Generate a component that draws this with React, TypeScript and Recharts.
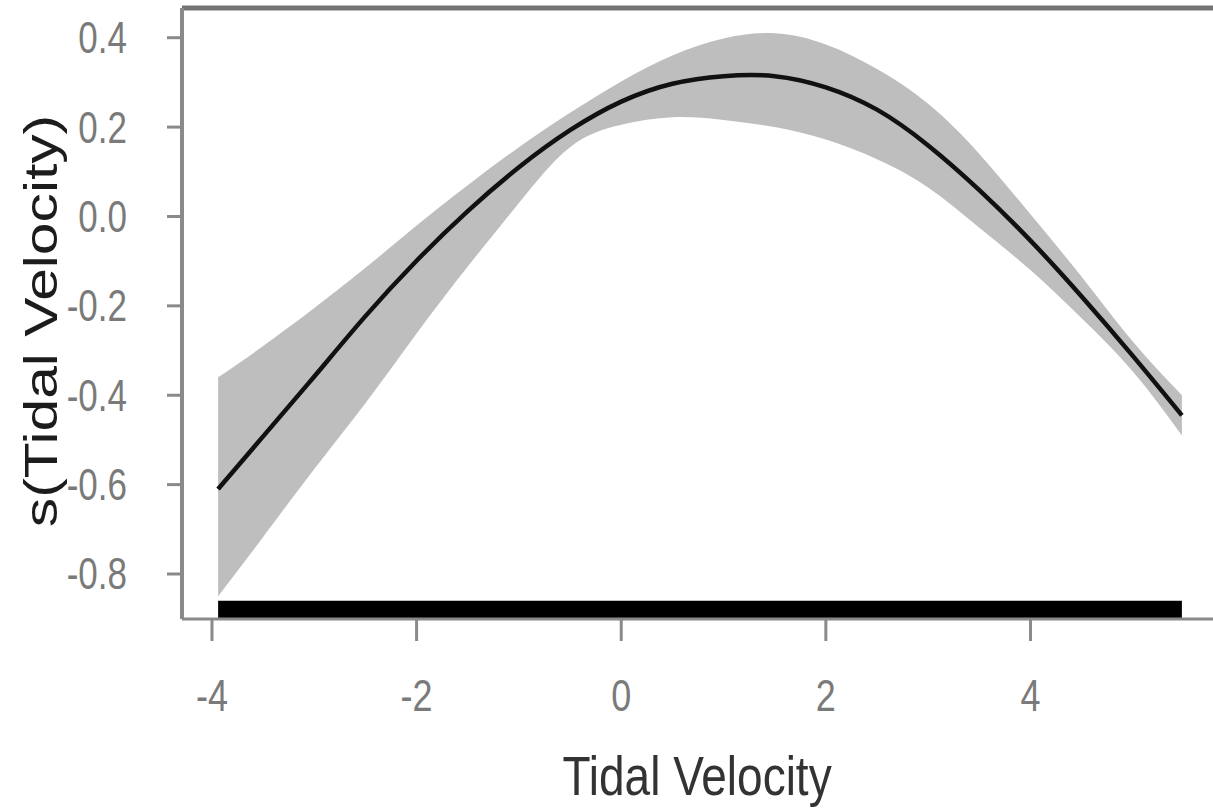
import { Area, ComposedChart, Line, ReferenceArea, ReferenceLine, XAxis, YAxis } from "recharts";

// smooth term s(Tidal Velocity) with its confidence band
const tidalVelocity = [-3.94, -3.5, -3, -2.5, -2, -1.5, -1, -0.5, 0, 0.5, 1, 1.5, 2, 2.5, 3, 3.5, 4, 4.5, 5, 5.48];
const fitted = [-0.61, -0.492, -0.358, -0.223, -0.099, 0.012, 0.11, 0.193, 0.257, 0.297, 0.314, 0.314, 0.289, 0.239, 0.159, 0.059, -0.054, -0.179, -0.312, -0.445];
const upperCI = [-0.36, -0.29, -0.205, -0.115, -0.02, 0.07, 0.155, 0.232, 0.302, 0.36, 0.398, 0.41, 0.385, 0.33, 0.252, 0.14, 0.005, -0.135, -0.28, -0.4];
const lowerCI = [-0.85, -0.717, -0.565, -0.418, -0.262, -0.112, 0.03, 0.155, 0.205, 0.222, 0.216, 0.2, 0.172, 0.128, 0.065, -0.025, -0.12, -0.228, -0.347, -0.49];

const xTicks = [-4, -2, 0, 2, 4];
const yTicks = [0.4, 0.2, 0, -0.2, -0.4, -0.6, -0.8];

const xDomain = [-4.293, 5.784];
const yDomain = [-0.9007, 0.4665];
const rugTop = -0.86;

const data = tidalVelocity.map((x, i) => ({
  x,
  fit: fitted[i],
  band: [lowerCI[i], upperCI[i]],
}));

const FONT = "'Liberation Sans', Arial, sans-serif";
const AXIS_GREY = "#8a8a8a";

function XTick({ x, y, payload }: { x?: number; y?: number; payload?: { value: number } }) {
  return (
    <g transform={`translate(${x},${(y ?? 0) + 70}) scale(1,1.25)`}>
      <text x={0} y={0} textAnchor="middle" fontSize={36} fontFamily={FONT} fill="#7a7a7a">
        {String(payload?.value)}
      </text>
    </g>
  );
}

function YTick({ x, y, payload }: { x?: number; y?: number; payload?: { value: number } }) {
  return (
    <g transform={`translate(${x},${(y ?? 0) + 15.5}) scale(1,1.25)`}>
      <text x={0} y={0} textAnchor="end" fontSize={35} fontFamily={FONT} fill="#7a7a7a">
        {(payload?.value ?? 0).toFixed(1)}
      </text>
    </g>
  );
}

function XTitle() {
  return (
    <g transform="translate(697,795) scale(1,1.2)">
      <text x={0} y={0} textAnchor="middle" fontSize={46} fontFamily={FONT} fill="#333">
        Tidal Velocity
      </text>
    </g>
  );
}

function YTitle() {
  return (
    <g transform="translate(57,321) rotate(-90) scale(1.25,1)">
      <text x={0} y={0} textAnchor="middle" fontSize={47} fontFamily={FONT} fill="#1c1c1c">
        s(Tidal Velocity)
      </text>
    </g>
  );
}

export default function App() {
  return (
    <div style={{ position: "absolute", left: 0, top: 0, width: 1213, height: 809, background: "#fff", overflow: "hidden" }}>
      <ComposedChart width={1213} height={809} data={data} margin={{ top: 8, right: 0, bottom: 0, left: 0 }}>
        <XAxis
          type="number"
          dataKey="x"
          domain={xDomain}
          ticks={xTicks}
          allowDataOverflow
          height={190}
          tickSize={22}
          tickMargin={0}
          axisLine={{ stroke: AXIS_GREY, strokeWidth: 3 }}
          tickLine={{ stroke: AXIS_GREY, strokeWidth: 3 }}
          tick={<XTick />}
          label={<XTitle />}
        />
        <YAxis
          type="number"
          domain={yDomain}
          ticks={yTicks}
          allowDataOverflow
          width={182}
          tickSize={15}
          tickMargin={40}
          axisLine={{ stroke: AXIS_GREY, strokeWidth: 4 }}
          tickLine={{ stroke: AXIS_GREY, strokeWidth: 3 }}
          tick={<YTick />}
          label={<YTitle />}
        />
        <ReferenceLine y={yDomain[1]} stroke="#747474" strokeWidth={5} />
        <Area
          type="natural"
          dataKey="band"
          stroke="none"
          fill="#bebebe"
          fillOpacity={1}
          isAnimationActive={false}
        />
        <Line
          type="natural"
          dataKey="fit"
          stroke="#111"
          strokeWidth={4.5}
          dot={false}
          isAnimationActive={false}
        />
        <ReferenceArea
          x1={tidalVelocity[0]}
          x2={tidalVelocity[tidalVelocity.length - 1]}
          y1={yDomain[0]}
          y2={rugTop}
          fill="#000"
          fillOpacity={1}
          stroke="none"
        />
      </ComposedChart>
    </div>
  );
}
